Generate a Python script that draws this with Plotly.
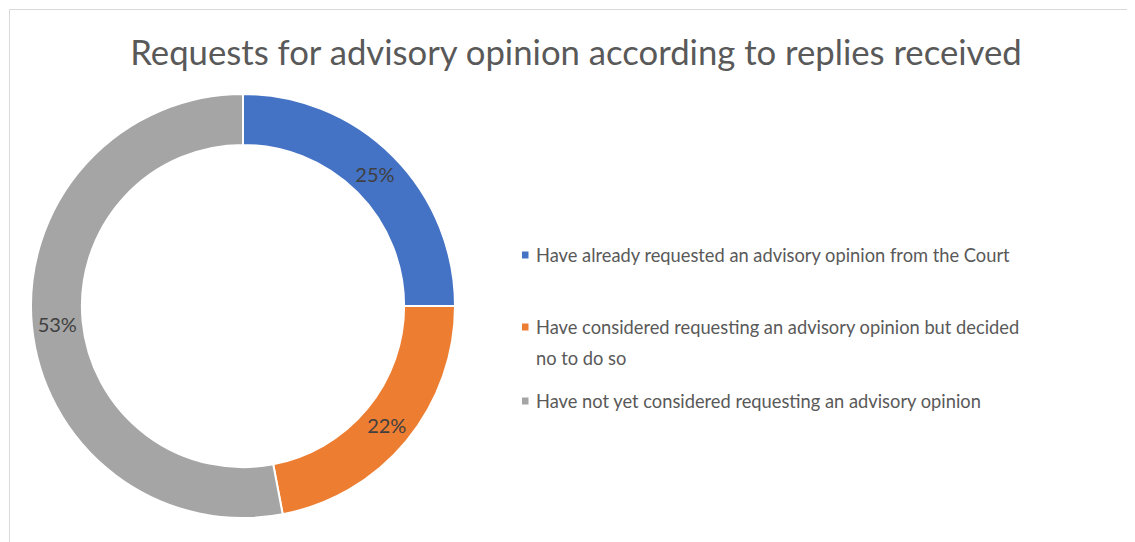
import plotly.graph_objects as go

# Data
categories = [
    "Have already requested an advisory opinion from the Court",
    "Have considered requesting an advisory opinion but decided no to do so",
    "Have not yet considered requesting an advisory opinion",
]
legend_lines = [
    ["Have already requested an advisory opinion from the Court"],
    ["Have considered requesting an advisory opinion but decided", "no to do so"],
    ["Have not yet considered requesting an advisory opinion"],
]
values = [25, 22, 53]
colors = ["#4472C4", "#ED7D31", "#A5A5A5"]
title_text = "Requests for advisory opinion according to replies received"

# The page places the figure 8px from the top-left corner of the window
OFF = 8
W, H = 1135 - OFF, 542 - OFF
FONT = "Lato"

def px(x):
    return (x - OFF) / W

def py(y):
    return 1 - (y - OFF) / H

cx, cy, R = 243, 306, 212

fig = go.Figure(
    go.Pie(
        labels=categories,
        values=values,
        hole=0.76,
        sort=False,
        direction="clockwise",
        rotation=0,
        marker=dict(colors=colors, line=dict(color="white", width=2)),
        textinfo="percent",
        textposition="inside",
        insidetextorientation="horizontal",
        textfont=dict(family=FONT, size=20, color="#404040"),
        showlegend=False,
        domain=dict(x=[px(cx - R), px(cx + R)], y=[py(cy + R), py(cy - R)]),
    )
)

shapes = [
    dict(type="rect", xref="paper", yref="paper",
         x0=px(9.5), x1=1.05, y0=-0.05, y1=py(9.5),
         line=dict(color="#D9D9D9", width=1), fillcolor="rgba(0,0,0,0)")
]
annotations = []

# Legend drawn from categories/colors
item_y = [255, 327, 401]
line_gap = 31
for i, lines in enumerate(legend_lines):
    y = item_y[i]
    shapes.append(dict(type="rect", xref="paper", yref="paper",
                       x0=px(522), x1=px(528.5), y0=py(y + 3.5), y1=py(y - 3.5),
                       line=dict(width=0), fillcolor=colors[i]))
    for j, ln in enumerate(lines):
        annotations.append(dict(
            x=px(534), y=py(y + j * line_gap), xref="paper", yref="paper",
            xanchor="left", yanchor="middle", showarrow=False, text=ln,
            font=dict(family=FONT, size=18.3, color="#595959"),
        ))

fig.update_layout(
    width=W, height=H,
    margin=dict(l=0, r=0, t=0, b=0),
    paper_bgcolor="white",
    plot_bgcolor="white",
    title=dict(text=title_text, x=px(576), xanchor="center",
               y=py(53), yanchor="middle",
               font=dict(family=FONT, size=34.7, color="#595959")),
    shapes=shapes,
    annotations=annotations,
)

fig.write_html("out.html")
